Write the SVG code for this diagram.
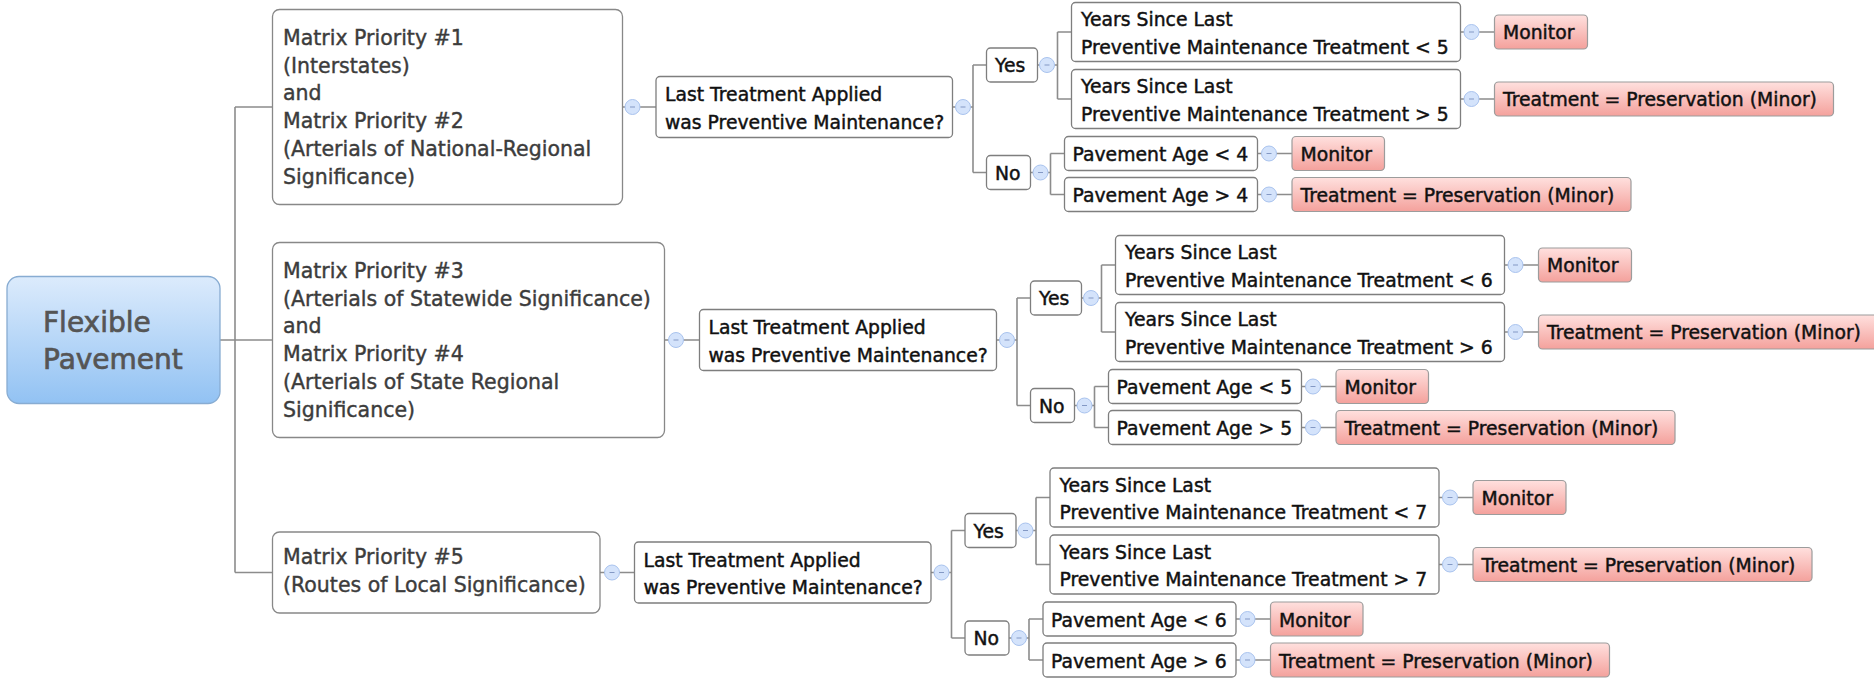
<svg xmlns="http://www.w3.org/2000/svg" xmlns:xlink="http://www.w3.org/1999/xlink" width="1874" height="678" viewBox="0 0 1874 678">
<defs>
<linearGradient id="gRoot" x1="0" y1="0" x2="0" y2="1"><stop offset="0" stop-color="#dcebfc"/><stop offset="1" stop-color="#92c2f3"/></linearGradient>
<linearGradient id="gRed" x1="0" y1="0" x2="0" y2="1"><stop offset="0" stop-color="#ffe0de"/><stop offset="1" stop-color="#f4a19c"/></linearGradient>
<g id="col"><circle r="7.5" fill="#d4e3fb" stroke="#a9c3ee" stroke-width="1"/><line x1="-2.5" y1="0" x2="2.5" y2="0" stroke="#8398c4" stroke-width="1"/></g>
<style>
text{font-family:"DejaVu Sans","Liberation Sans",sans-serif;}
.t{font-size:18.8px;fill:#111;stroke:#111;stroke-width:0.45px;}
.m{font-size:20.5px;fill:#3c3c3c;stroke:#3c3c3c;stroke-width:0.4px;}
.r{font-size:28px;fill:#555;stroke:#555;stroke-width:0.7px;}
.box{fill:#fff;stroke:#7e7e7e;stroke-width:1.3;}
.mbox{fill:#fff;stroke:#888;stroke-width:1.3;}
.leaf{fill:url(#gRed);stroke:#9c9c9c;stroke-width:1.2;}
.root{fill:url(#gRoot);stroke:#88acd2;stroke-width:1.3;}
.conn{fill:none;stroke:#8c8c8c;stroke-width:1.6;}
</style>
</defs>
<g id="connectors">
<path class="conn" d="M220 340H235M235 107V572.5M235 107H272.5M235 340H272.5M235 572.5H272.5"/>
<!-- group 1 -->
<path class="conn" d="M622.5 107H656M952.5 107H973M973 65V172.5M973 65H986.5M973 172.5H986.5M1037.5 65H1057.5M1057.5 32V99M1057.5 32H1071.5M1057.5 99H1071.5M1460.5 32H1494.5M1460.5 99H1494.5M1030.5 172.5H1050.5M1050.5 153.5V194.5M1050.5 153.5H1064.5M1050.5 194.5H1064.5M1257.5 153.5H1292M1257.5 194.5H1292"/>
<!-- group 2 -->
<path class="conn" d="M664.5 340H699.5M996.5 340H1017M1017 298V405.5M1017 298H1030.5M1017 405.5H1030.5M1081.5 298H1101.5M1101.5 265V332M1101.5 265H1115.5M1101.5 332H1115.5M1504.5 265H1538.5M1504.5 332H1538.5M1074.5 405.5H1094.5M1094.5 386.5V427.5M1094.5 386.5H1108.5M1094.5 427.5H1108.5M1301.5 386.5H1336M1301.5 427.5H1336"/>
<!-- group 3 -->
<path class="conn" d="M600 572.5H634.5M931 572.5H951.5M951.5 530.5V638M951.5 530.5H965M951.5 638H965M1016 530.5H1036M1036 497.5V564.5M1036 497.5H1050M1036 564.5H1050M1439 497.5H1473M1439 564.5H1473M1009 638H1029M1029 619V660M1029 619H1043M1029 660H1043M1236 619H1270.5M1236 660H1270.5"/>
<!-- collapse markers -->
<use xlink:href="#col" href="#col" x="632.5" y="107"/>
<use xlink:href="#col" href="#col" x="963" y="107"/>
<use xlink:href="#col" href="#col" x="1047" y="65"/>
<use xlink:href="#col" href="#col" x="1040.5" y="172.5"/>
<use xlink:href="#col" href="#col" x="1471.5" y="32"/>
<use xlink:href="#col" href="#col" x="1471.5" y="99"/>
<use xlink:href="#col" href="#col" x="1269" y="153.5"/>
<use xlink:href="#col" href="#col" x="1269" y="194.5"/>
<use xlink:href="#col" href="#col" x="676" y="340"/>
<use xlink:href="#col" href="#col" x="1007" y="340"/>
<use xlink:href="#col" href="#col" x="1091" y="298"/>
<use xlink:href="#col" href="#col" x="1084.5" y="405.5"/>
<use xlink:href="#col" href="#col" x="1515.5" y="265"/>
<use xlink:href="#col" href="#col" x="1515.5" y="332"/>
<use xlink:href="#col" href="#col" x="1313" y="386.5"/>
<use xlink:href="#col" href="#col" x="1313" y="427.5"/>
<use xlink:href="#col" href="#col" x="612" y="572.5"/>
<use xlink:href="#col" href="#col" x="941.5" y="572.5"/>
<use xlink:href="#col" href="#col" x="1025.5" y="530.5"/>
<use xlink:href="#col" href="#col" x="1019" y="638"/>
<use xlink:href="#col" href="#col" x="1450" y="497.5"/>
<use xlink:href="#col" href="#col" x="1450" y="564.5"/>
<use xlink:href="#col" href="#col" x="1247.5" y="619"/>
<use xlink:href="#col" href="#col" x="1247.5" y="660"/>
</g>
<g id="root"><rect class="root" x="7" y="276.5" width="213" height="127" rx="12"/><text class="r" x="43" y="332">Flexible</text><text class="r" x="43" y="369">Pavement</text></g>
<!-- group 1 -->
<g id="m1"><rect class="mbox" x="272.5" y="9.5" width="350" height="195" rx="7"/>
<text class="m" x="283" y="44.7">Matrix Priority #1</text><text class="m" x="283" y="72.5">(Interstates)</text><text class="m" x="283" y="100.3">and</text><text class="m" x="283" y="128.1">Matrix Priority #2</text><text class="m" x="283" y="155.9">(Arterials of National-Regional</text><text class="m" x="283" y="183.7">Significance)</text></g>
<g id="lt1"><rect class="box" x="656" y="76.5" width="296.5" height="61" rx="4"/><text class="t" x="665" y="101">Last Treatment Applied</text><text class="t" x="665" y="128.5">was Preventive Maintenance?</text></g>
<g id="yes1"><rect class="box" x="986.5" y="48" width="51" height="34" rx="4"/><text class="t" x="995" y="72">Yes</text></g>
<g id="no1"><rect class="box" x="986.5" y="155.5" width="44" height="34" rx="4"/><text class="t" x="995" y="179.5">No</text></g>
<g id="y1a"><rect class="box" x="1071.5" y="2.5" width="389" height="59" rx="4"/><text class="t" x="1081" y="26">Years Since Last</text><text class="t" x="1081" y="53.5">Preventive Maintenance Treatment &lt; 5</text></g>
<g id="y1b"><rect class="box" x="1071.5" y="69.5" width="389" height="59" rx="4"/><text class="t" x="1081" y="93">Years Since Last</text><text class="t" x="1081" y="120.5">Preventive Maintenance Treatment &gt; 5</text></g>
<g id="mon1a"><rect class="leaf" x="1494.5" y="15" width="93" height="34" rx="4"/><text class="t" x="1503" y="39">Monitor</text></g>
<g id="tr1b"><rect class="leaf" x="1494.5" y="82" width="339" height="34" rx="4"/><text class="t" x="1503" y="106">Treatment = Preservation (Minor)</text></g>
<g id="n1a"><rect class="box" x="1064.5" y="136.5" width="193" height="34" rx="4"/><text class="t" x="1072.5" y="161">Pavement Age &lt; 4</text></g>
<g id="n1b"><rect class="box" x="1064.5" y="177.5" width="193" height="34" rx="4"/><text class="t" x="1072.5" y="202">Pavement Age &gt; 4</text></g>
<g id="mon1c"><rect class="leaf" x="1292" y="136.5" width="92.5" height="34" rx="4"/><text class="t" x="1300.5" y="161">Monitor</text></g>
<g id="tr1d"><rect class="leaf" x="1292" y="177.5" width="339" height="34" rx="4"/><text class="t" x="1300.5" y="202">Treatment = Preservation (Minor)</text></g>
<!-- group 2 -->
<g id="m2"><rect class="mbox" x="272.5" y="242.5" width="392" height="195" rx="7"/>
<text class="m" x="283" y="277.7">Matrix Priority #3</text><text class="m" x="283" y="305.5">(Arterials of Statewide Significance)</text><text class="m" x="283" y="333.3">and</text><text class="m" x="283" y="361.1">Matrix Priority #4</text><text class="m" x="283" y="388.9">(Arterials of State Regional</text><text class="m" x="283" y="416.7">Significance)</text></g>
<g id="lt2"><rect class="box" x="699.5" y="309.5" width="297" height="61" rx="4"/><text class="t" x="708.5" y="334">Last Treatment Applied</text><text class="t" x="708.5" y="361.5">was Preventive Maintenance?</text></g>
<g id="yes2"><rect class="box" x="1030.5" y="281" width="51" height="34" rx="4"/><text class="t" x="1039" y="305">Yes</text></g>
<g id="no2"><rect class="box" x="1030.5" y="388.5" width="44" height="34" rx="4"/><text class="t" x="1039" y="412.5">No</text></g>
<g id="y2a"><rect class="box" x="1115.5" y="235.5" width="389" height="59" rx="4"/><text class="t" x="1125" y="259">Years Since Last</text><text class="t" x="1125" y="286.5">Preventive Maintenance Treatment &lt; 6</text></g>
<g id="y2b"><rect class="box" x="1115.5" y="302.5" width="389" height="59" rx="4"/><text class="t" x="1125" y="326">Years Since Last</text><text class="t" x="1125" y="353.5">Preventive Maintenance Treatment &gt; 6</text></g>
<g id="mon2a"><rect class="leaf" x="1538.5" y="248" width="93" height="34" rx="4"/><text class="t" x="1547" y="272">Monitor</text></g>
<g id="tr2b"><rect class="leaf" x="1538.5" y="315" width="339" height="34" rx="4"/><text class="t" x="1547" y="339">Treatment = Preservation (Minor)</text></g>
<g id="n2a"><rect class="box" x="1108.5" y="369.5" width="193" height="34" rx="4"/><text class="t" x="1116.5" y="394">Pavement Age &lt; 5</text></g>
<g id="n2b"><rect class="box" x="1108.5" y="410.5" width="193" height="34" rx="4"/><text class="t" x="1116.5" y="435">Pavement Age &gt; 5</text></g>
<g id="mon2c"><rect class="leaf" x="1336" y="369.5" width="92.5" height="34" rx="4"/><text class="t" x="1344.5" y="394">Monitor</text></g>
<g id="tr2d"><rect class="leaf" x="1336" y="410.5" width="339" height="34" rx="4"/><text class="t" x="1344.5" y="435">Treatment = Preservation (Minor)</text></g>
<!-- group 3 -->
<g id="m3"><rect class="mbox" x="272.5" y="532" width="327.5" height="81" rx="7"/>
<text class="m" x="283" y="564.3">Matrix Priority #5</text><text class="m" x="283" y="592.3">(Routes of Local Significance)</text></g>
<g id="lt3"><rect class="box" x="634.5" y="542" width="296.5" height="61" rx="4"/><text class="t" x="643.5" y="566.5">Last Treatment Applied</text><text class="t" x="643.5" y="594">was Preventive Maintenance?</text></g>
<g id="yes3"><rect class="box" x="965" y="513.5" width="51" height="34" rx="4"/><text class="t" x="973.5" y="537.5">Yes</text></g>
<g id="no3"><rect class="box" x="965" y="621" width="44" height="34" rx="4"/><text class="t" x="973.5" y="645">No</text></g>
<g id="y3a"><rect class="box" x="1050" y="468" width="389" height="59" rx="4"/><text class="t" x="1059.5" y="491.5">Years Since Last</text><text class="t" x="1059.5" y="519">Preventive Maintenance Treatment &lt; 7</text></g>
<g id="y3b"><rect class="box" x="1050" y="535" width="389" height="59" rx="4"/><text class="t" x="1059.5" y="558.5">Years Since Last</text><text class="t" x="1059.5" y="586">Preventive Maintenance Treatment &gt; 7</text></g>
<g id="mon3a"><rect class="leaf" x="1473" y="480.5" width="93" height="34" rx="4"/><text class="t" x="1481.5" y="504.5">Monitor</text></g>
<g id="tr3b"><rect class="leaf" x="1473" y="547.5" width="339" height="34" rx="4"/><text class="t" x="1481.5" y="571.5">Treatment = Preservation (Minor)</text></g>
<g id="n3a"><rect class="box" x="1043" y="602" width="193" height="34" rx="4"/><text class="t" x="1051" y="626.5">Pavement Age &lt; 6</text></g>
<g id="n3b"><rect class="box" x="1043" y="643" width="193" height="34" rx="4"/><text class="t" x="1051" y="667.5">Pavement Age &gt; 6</text></g>
<g id="mon3c"><rect class="leaf" x="1270.5" y="602" width="92.5" height="34" rx="4"/><text class="t" x="1279" y="626.5">Monitor</text></g>
<g id="tr3d"><rect class="leaf" x="1270.5" y="643" width="339" height="34" rx="4"/><text class="t" x="1279" y="667.5">Treatment = Preservation (Minor)</text></g>
</svg>
